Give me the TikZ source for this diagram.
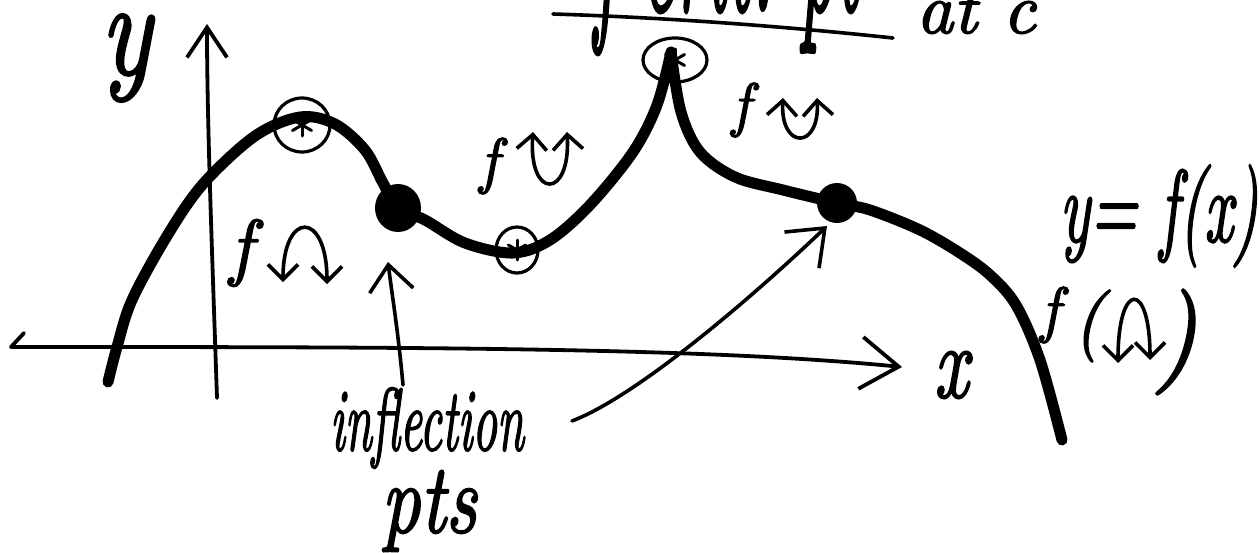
\documentclass[tikz,border=0pt]{standalone}
\usepackage{graphicx}
\usepackage{fontspec}
\usetikzlibrary{arrows.meta}
% pen-weight italic for the hand lettering
\newfontfamily\handfont{lmroman10-italic.otf}[FakeBold=2]
% hand-lettered label: size, vertical stretch, text
\newcommand{\hand}[3]{\fontsize{#1}{#1}\selectfont\handfont\scalebox{1}[#2]{#3}}
\tikzset{
  lbl/.style={inner sep=0pt, outer sep=0pt},
  curve/.style={line width=11pt, line cap=round, line join=round},
  axis/.style={line width=3.8pt, line cap=round},
  ring/.style={line width=3.2pt},
  starline/.style={line width=3pt, line cap=round},
  pointer/.style={line width=3.6pt, line cap=round},
  concav/.style={line width=3.6pt, line cap=round,
    {Straight Barb[length=15pt,width=30pt]}-{Straight Barb[length=15pt,width=30pt]}},
}
\begin{document}
\begin{tikzpicture}[x=1pt,y=-1pt]
\useasboundingbox (0,0) rectangle (1259,552);
\fill[white] (0,0) rectangle (1259,552);
\clip (0,0) rectangle (1259,552);

% ---- key points of the graph ----
\coordinate (start) at (108,382);
\coordinate (cmax)  at (300,117);
\coordinate (ip1)   at (398,208);
\coordinate (cmin)  at (513,253);
\coordinate (cusp)  at (671,52);
\coordinate (ip2)   at (837,203);
\coordinate (stop)  at (1062,440);

% ---- axes ----
\coordinate (ybot) at (217,398);
\coordinate (ytop) at (207,24);
\draw[axis, -{Straight Barb[length=30pt,width=40pt]}]
  (ybot) .. controls (212,250) and (207,120) .. (ytop);
\coordinate (xtick) at (24,333);
\coordinate (xleft) at (11,347);
\coordinate (xtip)  at (902,367);
\draw[axis] (xtick) -- (xleft);
\draw[axis, -{Straight Barb[length=38pt,width=52pt]}]
  (xleft) .. controls (400,347) and (700,347) .. (xtip);
\node[lbl] (ylab) at (126,58) {\hand{104}{1.3}{y}};
\node[lbl] (xlab) at (951,375) {\hand{74}{1.4}{x}};

% ---- the graph y = f(x) ----
\draw[curve] plot[smooth, tension=0.55] coordinates {
  (start) (117,347) (132,300) (167,236) (203,184) (255,136) (cmax)
  (335,124) (365,150) (383,183) (ip1) (425,220) (465,243) (cmin)
  (550,240) (590,205) (633,152) (657,105) (cusp)};
\draw[curve] plot[smooth, tension=0.55] coordinates {
  (cusp) (681,112) (700,152) (735,177) (783,190) (ip2) (870,210)
  (920,230) (960,253) (990,275) (1016,305) (1040,360) (stop)};

% inflection points
\fill (ip1) circle[x radius=23pt, y radius=24pt];
\fill (ip2) circle[radius=20pt];

% critical points, circled with a star
\coordinate (rmax)  at (302,125);
\coordinate (rmin)  at (517,250);
\coordinate (rcusp) at (675,60);
\draw[ring] (rmax)  circle[x radius=28pt, y radius=27pt];
\draw[ring] (rmin)  circle[x radius=21pt, y radius=23pt];
\draw[ring] (rcusp) circle[x radius=32pt, y radius=22pt];
\foreach \c/\r in {rmax/11pt, rmin/10pt, rcusp/11pt}
  \foreach \a in {90,30,150}
    \draw[starline, shift={(\c)}] (\a:\r) -- (\a+180:\r);

% ---- concavity marks ----
\node[lbl] (fA) at (241,253) {\hand{74}{1}{f}};
\coordinate (a1) at (283,282); \coordinate (a2) at (327,284);
\draw[concav] (a1) .. controls (283,210) and (327,210) .. (a2);

\node[lbl] (fB) at (489,166) {\hand{62}{1}{f}};
\coordinate (b1) at (533,132); \coordinate (b2) at (567,132);
\draw[concav] (b1) .. controls (528,200) and (571,200) .. (b2);

\node[lbl] (fC) at (741,110) {\hand{60}{1}{f}};
\coordinate (c1) at (783,98); \coordinate (c2) at (817,98);
\draw[concav] (c1) .. controls (780,150) and (820,150) .. (c2);

\node[lbl] (fD) at (1050,315) {\hand{62}{1}{f}};
\node[lbl] (lpar) at (1088,326) {\hand{72}{1}{(}};
\coordinate (d1) at (1118,363); \coordinate (d2) at (1150,360);
\draw[concav] (d1) .. controls (1118,280) and (1150,280) .. (d2);
\node[lbl] (rpar) at (1176,342) {\hand{105}{1}{)}};

\node[lbl] (eqn) at (1159,216) {\hand{62}{1.65}{y= f(x)}};

% ---- inflection point labels and pointers ----
\node[lbl] (infl) at (427,428) {\hand{48}{1.85}{inflection}};
\node[lbl] (pts)  at (429,511) {\hand{76}{1.3}{pts}};
\coordinate (p1s) at (403,385);
\coordinate (p1t) at (388,262);
\draw[pointer, -{Straight Barb[length=26pt,width=44pt]}]
  (p1s) .. controls (398,330) and (392,295) .. (p1t);
\coordinate (p2s) at (572,421);
\coordinate (p2t) at (827,226);
\draw[pointer, -{Straight Barb[length=32pt,width=50pt]}]
  (p2s) .. controls (640,395) and (760,290) .. (p2t);

% ---- heading at the top edge ----
\node[lbl, anchor=base] (crit) at (727,10) {\hand{72}{3}{f crit.\ pt}};
\node[lbl, anchor=base] (atc)  at (976,33) {\hand{72}{1}{at c}};
\coordinate (u1) at (553,14);
\coordinate (u2) at (893,38);
\draw[pointer] (u1) .. controls (680,18) and (800,28) .. (u2);
\end{tikzpicture}
\end{document}
